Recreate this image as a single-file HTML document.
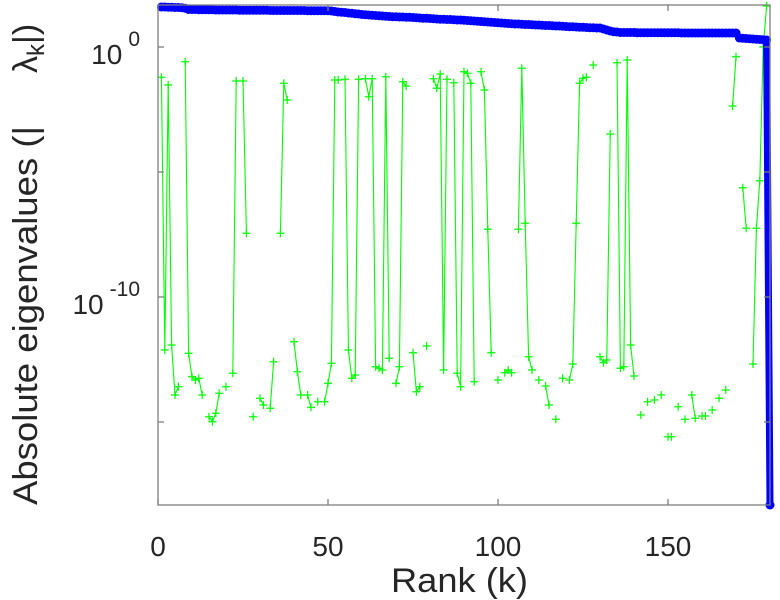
<!DOCTYPE html>
<html>
<head>
<meta charset="utf-8">
<style>
  html,body{margin:0;padding:0;background:#fff;}
  svg{display:block;font-family:"Liberation Sans",sans-serif;}
</style>
</head>
<body>
<svg id="chart" width="780" height="600" viewBox="0 0 780 600" xmlns="http://www.w3.org/2000/svg">
  <rect x="158" y="5" width="612" height="500" fill="#fff"/>
  <g id="series"></g>
  <rect x="158" y="5" width="612" height="500" fill="none" stroke="#7f7f7f" stroke-width="1.3"/>
  <g id="ticks"></g>
  <text x="391" y="592" font-size="34" fill="#262626" textLength="137" lengthAdjust="spacingAndGlyphs">Rank (k)</text>
  <text transform="translate(37,505) rotate(-90)" font-size="34" fill="#262626" textLength="379" lengthAdjust="spacingAndGlyphs">Absolute eigenvalues (|</text>
  <text transform="translate(37,73) rotate(-90)" font-size="34" fill="#262626">λ<tspan font-size="24" dy="7">k</tspan><tspan dy="-7">|)</tspan></text>
</svg>
<script>
// ---- data ----
const xTicks = [0, 50, 100, 150];
const yTickExps = [0, -10];
const yMinorExps = [-5, -15];
const xDomain = [0, 180];
const yDomain = [-18.32, 1.68]; // log10 range

// blue series: log10 |lambda_k| for rank 1..180
const blueLog = [
1.60,1.60,1.59,1.59,1.58,1.58,1.57,1.55,1.50,1.50,
1.50,1.49,1.49,1.49,1.49,1.49,1.48,1.48,1.48,1.48,
1.48,1.48,1.48,1.47,1.47,1.47,1.47,1.47,1.47,1.47,
1.47,1.47,1.46,1.46,1.46,1.46,1.46,1.46,1.46,1.46,
1.46,1.46,1.46,1.45,1.45,1.45,1.45,1.45,1.45,1.45,
1.44,1.42,1.40,1.39,1.38,1.36,1.35,1.33,1.32,1.30,
1.29,1.28,1.27,1.26,1.25,1.24,1.23,1.22,1.21,1.21,
1.20,1.20,1.19,1.19,1.18,1.17,1.16,1.15,1.15,1.14,
1.13,1.12,1.11,1.11,1.10,1.10,1.09,1.08,1.08,1.07,
1.06,1.05,1.04,1.03,1.02,1.01,1.00,0.99,0.98,0.97,
0.96,0.95,0.94,0.93,0.92,0.92,0.91,0.90,0.90,0.89,
0.88,0.88,0.87,0.86,0.86,0.85,0.84,0.84,0.83,0.82,
0.81,0.81,0.80,0.79,0.79,0.78,0.77,0.77,0.76,0.76,
0.72,0.68,0.64,0.61,0.60,0.58,0.58,0.58,0.58,0.58,
0.57,0.57,0.57,0.57,0.57,0.57,0.57,0.57,0.57,0.57,
0.57,0.57,0.57,0.56,0.56,0.56,0.56,0.56,0.56,0.56,
0.56,0.56,0.56,0.56,0.56,0.56,0.56,0.56,0.56,0.56,
0.36,0.35,0.34,0.33,0.32,0.31,0.30,0.29,0.28,-18.32
];

// green series: ranks and log10 values
const greenRank = [1,2,3,4,5,6,8,9,10,11,12,13,15,16,17,18,20,22,23,25,26,28,30,31,33,34,36,37,38,40,41,42,44,45,47,49,50,51,52,53,55,56,57,58,59,61,62,63,64,65,66,67,68,70,71,72,73,75,76,77,79,81,82,83,84,85,87,88,89,90,91,92,93,95,96,97,98,100,102,103,104,106,107,108,109,110,112,114,115,117,119,121,122,123,124,125,126,128,130,131,132,133,135,136,137,138,139,140,142,144,146,148,150,151,153,155,157,158,160,161,163,165,167,169,170,172,173,175,176,177,178,179];
const greenLog = [-1.21,-12.12,-1.52,-11.92,-13.92,-13.59,-0.59,-12.25,-13.19,-13.32,-13.25,-13.92,-14.79,-14.99,-14.65,-13.85,-13.59,-13.05,-1.36,-1.36,-7.45,-14.79,-14.05,-14.32,-14.45,-12.59,-7.45,-1.45,-2.12,-11.79,-12.99,-13.92,-13.92,-14.41,-14.19,-14.19,-13.45,-12.65,-1.32,-1.32,-1.29,-12.12,-13.25,-13.12,-1.29,-1.27,-1.99,-1.27,-12.79,-12.85,-12.92,-1.19,-12.45,-13.45,-12.79,-1.39,-1.56,-12.23,-13.79,-13.59,-11.96,-1.27,-1.65,-1.08,-12.92,-1.29,-1.43,-13.05,-13.59,-0.99,-1.05,-1.45,-13.39,-0.99,-1.72,-7.29,-12.23,-13.32,-13.03,-12.92,-13.03,-7.29,-0.85,-7.05,-12.39,-12.92,-13.32,-13.56,-14.32,-14.89,-13.25,-13.32,-12.68,-7.05,-1.45,-1.25,-1.21,-0.72,-12.39,-12.63,-12.52,-3.48,-0.63,-12.85,-12.79,-0.52,-11.92,-13.16,-14.72,-14.19,-14.12,-13.92,-15.59,-15.59,-14.39,-14.89,-13.92,-14.85,-14.76,-14.76,-14.52,-14.05,-13.72,-2.36,-0.39,-5.63,-7.25,-12.68,-7.25,-5.35,0.00,1.64];

// ---- axes ----
const L = 158, R = 770, T = 5, B = 505;
function xs(v){ return L + (v - xDomain[0]) / (xDomain[1] - xDomain[0]) * (R - L); }
function ys(e){ return B - (e - yDomain[0]) / (yDomain[1] - yDomain[0]) * (B - T); }

const NS = 'http://www.w3.org/2000/svg';
const series = document.getElementById('series');
const ticks = document.getElementById('ticks');
function mk(tag, attrs, parent){
  const el = document.createElementNS(NS, tag);
  for (const k in attrs) el.setAttribute(k, attrs[k]);
  parent.appendChild(el);
  return el;
}

// ticks
xTicks.forEach(function(v){
  const x = xs(v);
  const t1 = mk('line', {x1:x, x2:x, y1:B, y2:B-6, stroke:'#7f7f7f', 'stroke-width':1.3}, ticks);
  
  
  const t2 = mk('line', {x1:x, x2:x, y1:T, y2:T+6, stroke:'#7f7f7f', 'stroke-width':1.3}, ticks);
  
  
  const lb = mk('text', {x:x, y:556, 'font-size':28, fill:'#262626', 'text-anchor':'middle'}, ticks);
  lb.textContent = String(v);
  
  
});
yTickExps.concat(yMinorExps).forEach(function(e){
  const y = ys(e);
  const a = mk('line', {x1:L, x2:L+6, y1:y, y2:y, stroke:'#7f7f7f', 'stroke-width':1.3}, ticks);
  
  
  const b = mk('line', {x1:R, x2:R-6, y1:y, y2:y, stroke:'#7f7f7f', 'stroke-width':1.3}, ticks);
  
  
});
yTickExps.forEach(function(e){
  const y = ys(e);
  const sup = String(e);
  const lb = mk('text', {x:L-18, y:y+17, 'font-size':28, fill:'#262626', 'text-anchor':'end'}, ticks);
  
  
  const t1 = document.createElementNS(NS, 'tspan');
  t1.textContent = '10';
  lb.appendChild(t1);
  const t2 = document.createElementNS(NS, 'tspan');
  t2.setAttribute('dx', '6');
  t2.setAttribute('dy', '-18');
  t2.setAttribute('font-size', '21');
  t2.textContent = sup;
  lb.appendChild(t2);
});

// green series (connect consecutive ranks only)
let seg = [];
function flush(){
  if (seg.length > 1){
    const pl = mk('polyline', {points: seg.join(' '), fill:'none', stroke:'#00ff00', 'stroke-width':1.1}, series);
    
    
  }
  seg = [];
}
for (let i = 0; i < greenRank.length; i++){
  if (i > 0 && greenRank[i] - greenRank[i-1] > 1) flush();
  seg.push(xs(greenRank[i]).toFixed(1) + ',' + ys(greenLog[i]).toFixed(1));
}
flush();
for (let i = 0; i < greenRank.length; i++){
  const x = xs(greenRank[i]), y = ys(greenLog[i]);
  const p = mk('path', {d:'M'+(x-4)+','+y+'H'+(x+4)+'M'+x+','+(y-4)+'V'+(y+4), stroke:'#00ff00', 'stroke-width':1.2, fill:'none'}, series);
  
  
}

// blue series
const bpts = blueLog.map(function(v, i){ return xs(i+1).toFixed(1) + ',' + ys(v).toFixed(1); });
const bl = mk('polyline', {points: bpts.join(' '), fill:'none', stroke:'#0000ff', 'stroke-width':7, 'stroke-linejoin':'round', 'stroke-linecap':'round'}, series);


blueLog.forEach(function(v, i){
  const c = mk('circle', {cx: xs(i+1), cy: ys(v), r: 4.5, fill:'#0000ff'}, series);
  
  
});
</script>
</body>
</html>
